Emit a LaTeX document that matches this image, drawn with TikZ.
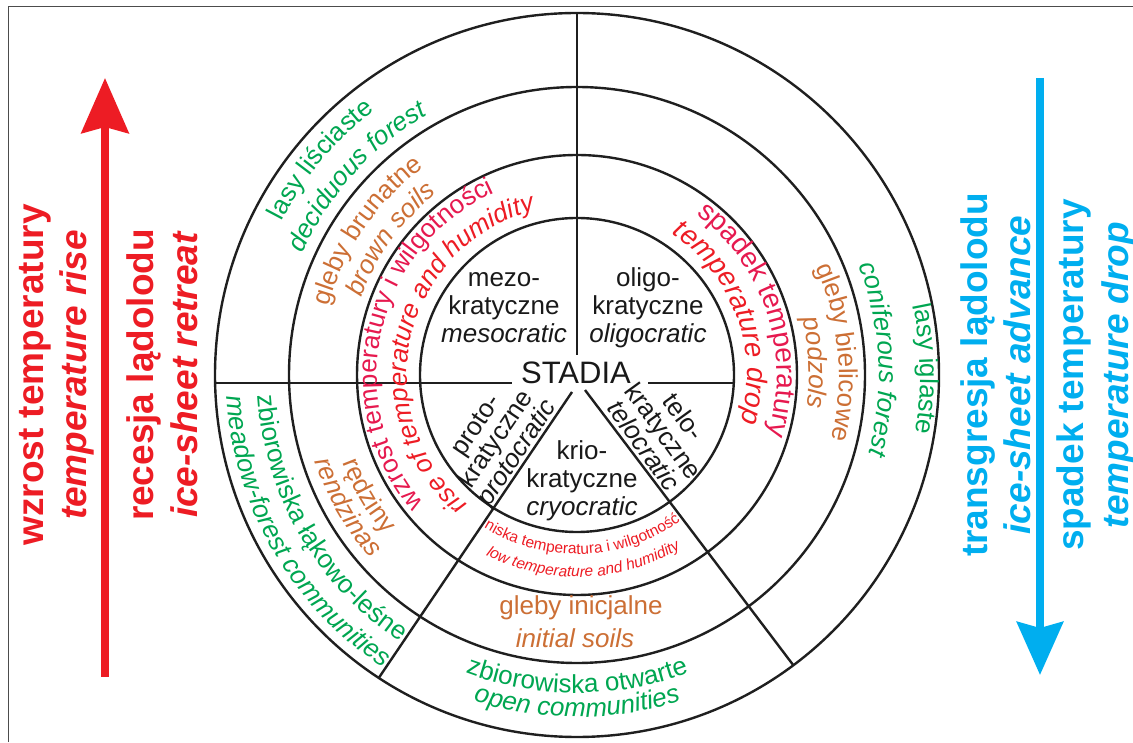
\documentclass[tikz,border=0pt]{standalone}
\usepackage{fontspec}
\setmainfont{Liberation Sans}
\usetikzlibrary{calc,decorations.text,arrows.meta}

\definecolor{vegGreen}{HTML}{00A651}
\definecolor{soilBrown}{HTML}{CC6F35}
\definecolor{warmCrimson}{HTML}{E6194F}
\definecolor{warmRed}{HTML}{ED1C24}
\definecolor{coldBlue}{HTML}{00AEEF}

\newcommand{\ringfont}{\fontsize{26}{28}\selectfont}
\newcommand{\bigringfont}{\fontsize{28}{30}\selectfont}
\newcommand{\smallringfont}{\fontsize{15.5}{17}\selectfont}
\newcommand{\sidefont}{\fontsize{37}{40}\selectfont\bfseries}

% text along an arc around C, letters standing outward (clockwise run)
\newcommand{\arcout}[5]{%
  \path[decorate,decoration={text along path,text align=center,text={|#4|#5}}]
    ($(C)+(#2+#3:#1)$) arc[start angle=#2+#3,end angle=#2-#3,radius=#1];}
% text along an arc around C, letters standing inward (counter-clockwise run)
\newcommand{\arcin}[5]{%
  \path[decorate,decoration={text along path,text align=center,text={|#4|#5}}]
    ($(C)+(#2-#3:#1)$) arc[start angle=#2-#3,end angle=#2+#3,radius=#1];}

\begin{document}
\begin{tikzpicture}[x=1pt,y=1pt,
  ring/.style={draw=black!88,line width=2.4pt},
  divider/.style={draw=black!88,line width=2.4pt},
  stage/.style={font=\ringfont,align=center,text=black!90,inner sep=0pt},
  tilted/.style={font=\fontsize{26}{24.5}\selectfont,align=center,text=black!90,inner sep=0pt},
  side/.style={font=\sidefont,rotate=90,inner sep=0pt},
  flat/.style={font=\ringfont,inner sep=0pt}]

\useasboundingbox (0,0) rectangle (1133,742);

% frame
\coordinate (fb) at (8,0);
\coordinate (fc) at (8,735);
\coordinate (fr) at (1133,735);
\draw[line width=1pt,black!70] (fb) -- (fc) -- (fr);

% rings
\coordinate (C) at (577,367);
\foreach \r in {157,220,288,362} \draw[ring] (C) circle[radius=\r];

% dividers
\coordinate (vtop) at ($(C)+(90:362)$);
\coordinate (vbot) at (577,387);
\draw[divider] (vtop) -- (vbot);
\coordinate (hl1) at (215,359); \coordinate (hl2) at (512,359);
\coordinate (hr1) at (648,359); \coordinate (hr2) at (733.8,359);
\draw[divider] (hl1) -- (hl2);
\draw[divider] (hr1) -- (hr2);
\coordinate (dl1) at (572,350); \coordinate (dl2) at ($(C)+(236.8:362)$);
\coordinate (dr1) at (585,352); \coordinate (dr2) at ($(C)+(306.7:362)$);
\draw[divider] (dl1) -- (dl2);
\draw[divider] (dr1) -- (dr2);

% stages
\node[stage] (meso) at (504,434) {mezo-\\kratyczne\\\textit{mesocratic}};
\node[stage] (oligo) at (648,434) {oligo-\\kratyczne\\\textit{oligocratic}};
\node[stage,font=\fontsize{31}{33}\selectfont] (stadia) at (576,369) {STADIA};
\node[stage] (krio) at (582,261) {krio-\\kratyczne\\\textit{cryocratic}};
\node[tilted,rotate=56] (proto) at (498,302) {proto-\\kratyczne\\\textit{protocratic}};
\node[tilted,rotate=-54] (telo) at (664,311) {telo-\\kratyczne\\\textit{telocratic}};

% ring labels
\arcout{333}{140}{60}{\ringfont\color{vegGreen}}{lasy liściaste}
\arcout{300}{138}{60}{\ringfont\itshape\color{vegGreen}}{deciduous forest}
\arcout{258}{145.5}{60}{\ringfont\color{soilBrown}}{gleby brunatne}
\arcout{229}{144}{60}{\ringfont\itshape\color{soilBrown}}{brown soils}
\arcout{200}{167}{85}{\ringfont\color{warmCrimson}}{wzrost temperatury i wilgotności}
\arcout{170}{167}{85}{\ringfont\itshape\color{warmRed}}{rise of temperature and humidity}
\arcout{200}{18}{60}{\bigringfont\color{warmCrimson}}{spadek temperatury}
\arcout{170}{20}{60}{\bigringfont\itshape\color{warmRed}}{temperature drop}
\arcout{262}{5}{60}{\ringfont\color{soilBrown}}{gleby bielicowe}
\arcout{232}{3}{60}{\ringfont\itshape\color{soilBrown}}{podzols}
\arcout{343}{1}{60}{\ringfont\color{vegGreen}}{lasy iglaste}
\arcout{302}{3}{60}{\ringfont\itshape\color{vegGreen}}{coniferous forest}
\arcin{320}{210}{60}{\ringfont\color{vegGreen}}{zbiorowiska łąkowo-leśne}
\arcin{351}{210}{60}{\ringfont\itshape\color{vegGreen}}{meadow-forest communities}
\arcin{250}{210}{50}{\ringfont\color{soilBrown}}{rędziny}
\arcin{276}{210}{50}{\ringfont\itshape\color{soilBrown}}{rendzinas}
\arcin{179}{272}{60}{\smallringfont\color{warmRed}}{niska temperatura i wilgotność}
\arcin{202}{272}{60}{\smallringfont\itshape\color{warmRed}}{low temperature and humidity}
\arcin{318}{270}{40}{\ringfont\color{vegGreen}}{zbiorowiska otwarte}
\arcin{342}{270}{40}{\ringfont\itshape\color{vegGreen}}{open communities}

\node[flat,text=soilBrown] (soilPl) at (581,134) {gleby inicjalne};
\node[flat,text=soilBrown] (soilEn) at (575,104) {\itshape initial soils};

% side arrows and captions
\coordinate (redTail) at (105,65); \coordinate (redTip) at (105,664);
\draw[line width=8pt,warmRed,-{Stealth[length=55pt,width=47pt,inset=6pt]}] (redTail) -- (redTip);
\coordinate (blueTail) at (1040,664); \coordinate (blueTip) at (1040,67);
\draw[line width=8pt,coldBlue,-{Stealth[length=53pt,width=46pt,inset=6pt]}] (blueTail) -- (blueTip);

\node[side,text=warmRed] (l1) at (35,367) {wzrost temperatury};
\node[side,text=warmRed] (l2) at (77,367) {\itshape temperature rise};
\node[side,text=warmRed] (l3) at (144,367) {recesja lądolodu};
\node[side,text=warmRed] (l4) at (184,367) {\itshape ice-sheet retreat};
\node[side,text=coldBlue] (r1) at (978,367) {transgresja lądolodu};
\node[side,text=coldBlue] (r2) at (1017,367) {\itshape ice-sheet advance};
\node[side,text=coldBlue] (r3) at (1074,367) {spadek temperatury};
\node[side,text=coldBlue] (r4) at (1119,367) {\itshape temperature drop};
\end{tikzpicture}
\end{document}
